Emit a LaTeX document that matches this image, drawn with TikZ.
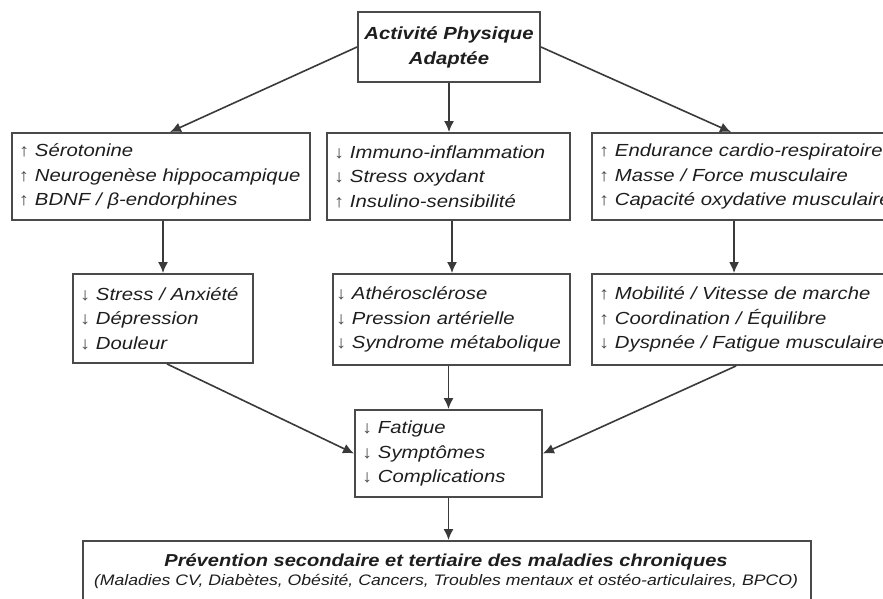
\documentclass[tikz,border=0pt]{standalone}
\usepackage{fontspec}
\setmainfont{Liberation Sans}[FakeStretch=1.16]
\usetikzlibrary{arrows.meta}
\definecolor{ink}{HTML}{1E1E1E}
\definecolor{frame}{HTML}{4A4A4A}
\definecolor{wire}{HTML}{3A3A3A}
\newcommand{\up}{{\color{frame}\char"2191}\ }
\newcommand{\dn}{{\color{frame}\char"2193}\ }
\begin{document}
\begin{tikzpicture}[x=1pt,y=-1pt,
  box/.style={draw=frame, line width=1.9pt, fill=white, inner xsep=7pt, inner ysep=0pt,
    align=left, text=ink, font=\fontsize{17.5}{24.5}\selectfont\itshape},
  headbox/.style={draw=frame, line width=1.9pt, fill=white, inner sep=0pt,
    align=center, text=ink, font=\fontsize{17.5}{25}\selectfont\bfseries\itshape},
  arr/.style={draw=wire, line width=1.6pt, -{Latex[length=11pt,width=10pt]}}]
\useasboundingbox (0,0) rectangle (883,598);
\clip (0,0) rectangle (883,598);
\fill[white] (0,0) rectangle (883,598);

% top box
\node[headbox, minimum width=182pt, minimum height=70pt] (top) at (449,47)
  {Activité Physique\\Adaptée};

% first row: mechanisms
\node[box, text width=284pt, minimum height=87pt] (r1l) at (161,176.5)
  {\up Sérotonine\\\up Neurogenèse hippocampique\\\up BDNF / β-endorphines};
\node[box, text width=229pt, minimum height=87pt] (r1m) at (448.5,176.5)
  {\dn Immuno-inflammation\\\dn Stress oxydant\\\up Insulino-sensibilité};
\node[box, text width=304pt, minimum height=87pt] (r1r) at (751,176.5)
  {\up Endurance cardio-respiratoire\\\up Masse / Force musculaire\\\up Capacité oxydative musculaire};

% second row: effects
\node[box, text width=166pt, minimum height=89pt] (r2l) at (163,318.5)
  {\dn Stress / Anxiété\\\dn Dépression\\\dn Douleur};
\node[box, inner xsep=3pt, text width=231pt, minimum height=91pt] (r2m) at (451.5,319.5)
  {\dn Athérosclérose\\\dn Pression artérielle\\\dn Syndrome métabolique};
\node[box, text width=304pt, minimum height=91pt] (r2r) at (751,319.5)
  {\up Mobilité / Vitesse de marche\\\up Coordination / Équilibre\\\dn Dyspnée / Fatigue musculaire};

% third row
\node[box, text width=173pt, minimum height=87pt] (fat) at (448.5,453.5)
  {\dn Fatigue\\\dn Symptômes\\\dn Complications};

% bottom box
\node[draw=frame, line width=1.9pt, fill=white, minimum width=728pt, minimum height=80pt,
  inner sep=0pt] (bot) at (447,581) {};
\node[text=ink, font=\fontsize{17.3}{20}\selectfont\bfseries\itshape, inner sep=0pt] (bt) at (446,562)
  {Prévention secondaire et tertiaire des maladies chroniques};
\node[text=ink, font=\fontsize{15.2}{17}\selectfont\itshape, inner sep=0pt] (bs) at (446,581)
  {(Maladies CV, Diabètes, Obésité, Cancers, Troubles mentaux et ostéo-articulaires, BPCO)};

% connectors
\draw[arr] (top.west) -- ([xshift=9pt]r1l.north);
\draw[arr] (top.south) -- (top.south |- r1m.north);
\draw[arr] (top.east) -- ([xshift=140pt]r1r.north west);

\draw[arr] (r1l.south -| r2l.north) -- (r2l.north);
\draw[arr] ([xshift=0.5pt]r1m.south -| r2m.north) -- ([xshift=0.5pt]r2m.north);
\draw[arr] ([xshift=143pt]r1r.south west) -- ([xshift=143pt]r2r.north west);

\draw[arr] ([xshift=4pt]r2l.south) -- (fat.west);
\draw[arr] (r2m.south -| fat.north) -- (fat.north);
\draw[arr] ([xshift=145pt]r2r.south west) -- (fat.east);

\draw[arr] (fat.south) -- (fat.south |- bot.north);
\end{tikzpicture}
\end{document}
